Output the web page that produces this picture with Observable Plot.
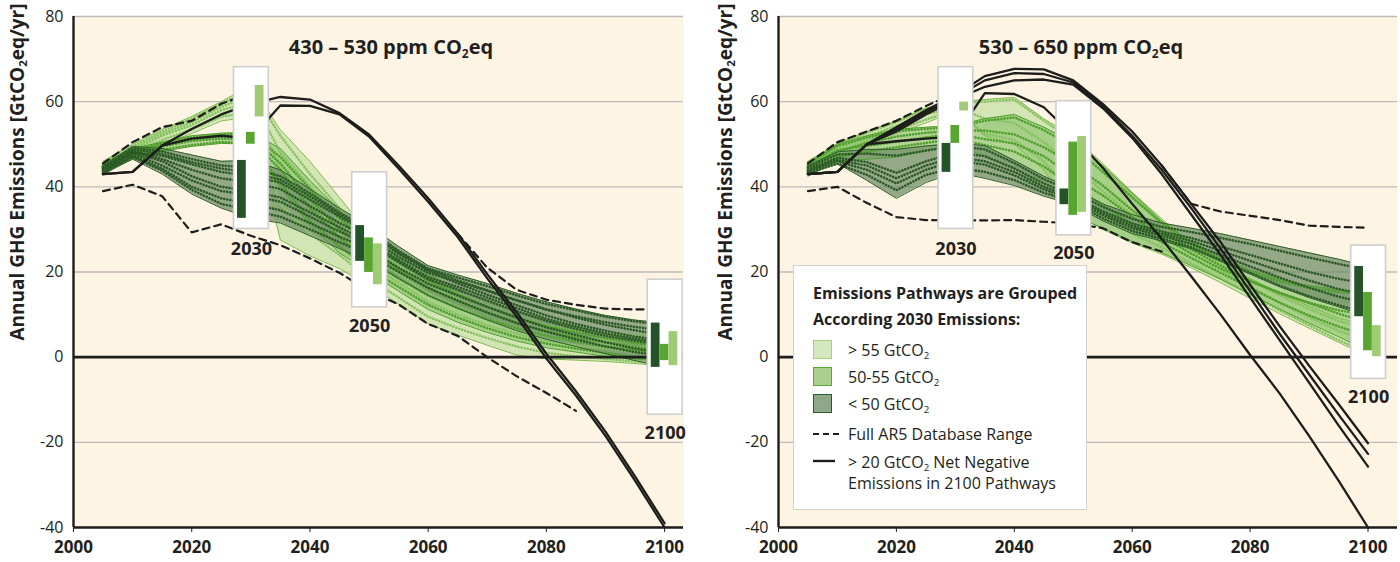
<!DOCTYPE html>
<html><head><meta charset="utf-8">
<script src="https://cdn.jsdelivr.net/npm/d3@7"></script>
<script src="https://cdn.jsdelivr.net/npm/@observablehq/plot@0.6"></script>
<style>
body{margin:0;background:#fff;}
#wrap{position:relative;width:1400px;height:562px;overflow:hidden;font-family:"Open Sans",sans-serif;color:#231f20;}
#wrap svg{font-stretch:100%;}
#wrap svg g[aria-label="text"]{font-stretch:93%;}
.panel{position:absolute;top:0;}
.ytitle{position:absolute;white-space:nowrap;font-weight:bold;font-size:19px;line-height:19px;font-stretch:96%;transform:translate(-50%,-50%) rotate(-90deg);}
.ptitle{position:absolute;white-space:nowrap;font-weight:bold;font-size:20px;line-height:20px;font-stretch:89%;transform:translateX(-50%);}
sub{font-size:0.6em;vertical-align:-0.3em;line-height:0}
#legend{position:absolute;left:793px;top:265px;width:292px;height:243px;background:#fff;border:1.5px solid #d2d2d2;}
#legend .t{position:absolute;left:19px;font-weight:bold;font-size:16px;line-height:16px;font-stretch:94%;white-space:nowrap;}
#legend .s{position:absolute;left:19px;width:17px;height:17px;border:1.5px solid;}
#legend .l{position:absolute;left:54px;font-size:16px;line-height:16px;font-stretch:92%;white-space:nowrap;}
#legend svg{position:absolute;left:19px;}
</style></head>
<body><div id="wrap"></div>
<script>
// ---------- data ----------
const YEARS = [2005,2010,2015,2020,2025,2030,2035,2040,2045,2050,2055,2060,2065,2070,2075,2080,2085,2090,2095,2100];
const X_TICKS = [2000,2020,2040,2060,2080,2100];
const Y_TICKS = [-40,-20,0,20,40,60,80];
const GRID_TICKS = [-20,20,40,60,80];
const BOX_YEARS = [2030,2050,2100];
const GROUP_NAMES = ["< 50 GtCO2","50-55 GtCO2","> 55 GtCO2"];

// Left panel: 430 – 530 ppm
const L_RANGE_HI = [45.5,50.5,54,55.5,59.5,62,null,null,null,null,null,null,29,21,15.8,13.5,12.3,11.4,11.2,11.2];
const L_RANGE_LO = [39,40.5,37.8,29.3,31.2,28.5,26.3,23.2,19.8,15.5,12.4,7.8,5,0,-4.5,-8.4,-12.6,null,null,null];
const L_NEG_1 = [43,43.5,49.7,53.6,57,59.5,61.1,60.5,57.3,52.3,45,37.3,29,19.5,10.5,0.8,-8,-17.5,-28,-39];
const L_NEG_2 = [43,43.5,49.7,51.3,52,51.4,59.1,59,57,51.8,44.3,36.5,28.2,18.5,9.5,-0.3,-9,-18.5,-29,-40];

const L_HI55_UP = [46,50,53.5,56.5,60,63.8,53.4,46,37.5,29,23,18.5,15,12,9.5,7.5,6.2,5.5,5.2,6];
const L_HI55_LO = [44.5,47.5,50,52.5,55.5,56.4,27.5,23.8,20.8,16.8,12.5,7.8,5.2,2.8,0.5,-0.4,-0.7,-1,-1.5,-2];
const L_MID_UP = [45.5,49,50.5,52,52.6,52.8,49,41.5,34.5,28,24,19.5,16,13,10.5,8.5,7,5.5,4.2,3];
const L_MID_LO = [43.5,46.5,48.3,49.5,50.2,50,40,31,24.5,19.9,15.5,11.2,8.2,5.8,3.8,2.2,1.2,0.2,-0.4,-0.8];
const L_LO50_UP = [45,49.5,49,47.5,46,46.2,44,39.5,35,30.9,26,21.5,19.3,17.3,15,13,11.3,9.8,8.7,8];
const L_LO50_LO = [43,46.5,43,38.3,35,32.6,31.5,28.5,25.5,22.5,18.5,14.5,11.5,8.7,6.2,4.2,2.5,0.8,-0.8,-2.4];

const L_HI55_RUNS = [
  [45.5,49.5,53,56,59.5,63,52,43,35,26,21.5,17,13.5,10.5,8,6,4.8,4,3.5,3.5],
  [45,48.5,52,54.5,58,60,44,37,29,22,17.5,13,10,7.5,5.5,3.8,2.8,2,1.3,1],
  [44.8,48,51,53.5,56.5,57.5,36,29,24,18.5,14,9.5,6.8,4.5,2.5,1,0.2,-0.4,-1,-1.5],
  [45.2,49,52.5,55.2,58.8,61.5,48,40,32,24,19.5,15,11.8,9,6.8,4.9,3.8,3,2.4,2.2]];
const L_MID_RUNS = [
  [45,48.5,50.3,51.6,52.3,52.5,47,39.5,32.5,27,22.5,18,14.8,11.8,9.3,7.3,5.8,4.5,3.3,2.5],
  [44.3,47.8,49.5,50.8,51.3,51.2,44,35,28,23,18.5,14.5,11.5,9,6.8,5,3.7,2.5,1.5,0.8],
  [43.8,47,48.7,49.8,50.5,50.3,41,32,26,20.8,16.5,12.3,9.3,6.8,4.7,3.2,2,1,0,-0.5],
  [44.7,48.2,49.9,51.2,51.8,51.8,45.5,37,30,25,20.5,16.2,13.1,10.4,8,6.1,4.7,3.5,2.4,1.6]];
const L_LO50_RUNS = [
  [44.7,49.2,48.3,46.5,45,44.5,42.5,38.5,34,30,25,20.8,18.7,16.7,14.5,12.5,11,9.5,8.4,7.5],
  [44.3,48.5,46.5,44,42,41,39.5,35.5,31.5,28,23.5,19.8,17.7,15.6,13.3,11.2,9.6,8.2,7.1,6.2],
  [43.8,47.8,45,41.5,39,38,36.5,33,29.5,26.5,22.3,18.3,15.8,13.3,10.8,8.5,6.6,5,3.8,2.8],
  [43.3,47,43.8,39.3,36,34.5,33,30,27,24,20,16.3,13.3,10.5,8,6,4.2,2.5,1.2,0.2],
  [44,48,47.3,45.3,43.5,42.5,41,37,33,29,24.3,20.3,17.3,14.7,12.2,9.8,7.8,6.2,4.8,3.8],
  [43.5,48.2,46,42.5,40,39,37.5,34,30.5,27,22.8,18.8,16.5,14,11.5,9,7.2,5.6,4.3,3.3],
  [43,47.3,44.3,40,37.3,36,34.5,31.5,28.3,25.3,21,17.2,14.5,11.8,9.3,7,5.2,3.5,2,1],
  [44.5,48.8,47.7,45.8,44.3,43.3,41.7,37.8,33.5,29.5,24.6,20.6,18,15.7,13.4,11.2,9.3,7.6,6.3,5.2]];

// [low, high] per year box: dark, medium, light
const L_BARS = [
  [[32.6,46.2],[50,52.8],[56.4,63.8]],
  [[22.5,30.9],[19.9,28],[17,26.6]],
  [[-2.4,8],[-0.8,3],[-2,6]]];
const L_BOX_SPAN = [[30.1,68.1],[11.7,43.4],[-13.5,18.2]];
const L_BOX_LABEL_Y = [25.3,7.3,-17.9];

// Right panel: 530 – 650 ppm
const R_RANGE_HI = [45.5,50.5,53,55.5,59,62,null,null,null,null,null,null,45,36,34.2,33.2,32.2,30.9,30.6,30.4];
const R_RANGE_LO = [39,40,36.2,32.9,32.2,32.1,32.1,32.2,31.8,31.4,30.3,27,24.8,null,null,null,null,null,null,null];
const R_NEG_1 = [43,43.5,50,50.7,51.3,51.8,62,61.8,58.7,52,44.5,36,27.8,19,10,0.5,-8.5,-18.5,-29,-40];
const R_NEG_2 = [43,43.5,50,54,58,61.5,66,67.7,67.6,65,59.5,53,45,36,27,17,7.3,-2,-11,-20.2];
const R_NEG_3 = [43,43.5,50,53.5,57.5,61,65,66.7,66.5,64.5,59,52,44,35,25.5,15.5,5.5,-4,-13.5,-22.7];
const R_NEG_4 = [43,43.5,50,53,57,60.5,63.5,65,65.2,64,58.5,51.5,43,33.5,24,14,4,-6,-16,-25.7];

const R_HI55_UP = [46,50.2,53,55.5,58.5,59.9,60.5,61,56,51.8,45.5,38.7,32.5,26.5,22.5,18.5,15,12,9.2,7.4];
const R_HI55_LO = [44.5,47.5,50.5,52.5,55,57.8,52,50,44,34,30,26.8,24.2,21,17.5,13.8,10.2,6.8,3.5,0.1];
const R_MID_UP = [45.5,50,52,53.5,54,54.4,56,57,54,50.5,45,38.5,32,27,23.5,20.5,18.3,16.8,15.8,15.2];
const R_MID_LO = [42.5,46,46.5,47,48.5,50.2,47,44.5,40,33.3,30.3,27.2,24.5,21.5,18.3,14.8,11.3,8,4.8,1.5];
const R_LO50_UP = [45,48.2,48.8,48.8,49.6,50.2,49.7,46.2,42.5,39.5,36,33.5,31.5,30.3,29,27.5,26,24.5,23,21.3];
const R_LO50_LO = [43,45.5,41.5,37.3,41,43.4,42,40.3,37.8,35.8,32,29,27.3,25.5,22.5,19.5,16.5,14,11.8,9.5];

const R_HI55_RUNS = [
  [45.8,49.8,52.7,55.2,58.3,59.7,60,60.5,55.5,51,44.5,37.8,31.5,26.5,22,18,14.5,11.3,8.5,6.8],
  [45.2,48.8,51.8,54.3,57,58.8,56,55,50.5,45,39,33.5,29,24.5,20.5,16.5,12.8,9.3,6.2,3.8],
  [44.7,48,51,53.2,55.8,58,52.5,51,46,38,33,29,25.8,22,18.5,14.8,11,7.5,4,1]];
const R_MID_RUNS = [
  [45.2,49.6,51.6,53.1,53.6,54.1,55.5,56.3,53.3,49.5,43.5,37.5,31.5,26.5,23,20,17.8,16.3,15.3,14.7],
  [44.3,48.3,50.3,51.8,52.7,53.2,53.2,52.3,49.3,45.3,40.3,34.5,29.5,25.3,21.5,18,15,12.8,11,9.8],
  [43.3,47,48.3,49.3,50.3,51.3,49.8,48.3,44.8,40,35.8,31,27,23.3,19.8,16.3,12.8,9.8,7.2,5],
  [44.6,48.6,49.6,50.6,51.6,52.5,51.2,50.2,47.2,42.3,38,33,28.3,24.3,20.8,17.8,15.2,12.7,10.2,8.2]];
const R_LO50_RUNS = [
  [44.6,47.6,47.8,47.3,48.5,49.6,48.8,45.6,41.8,38.8,35.3,32.5,30.6,29.4,28,26.6,25,23.4,21.9,20.5],
  [44.1,46.8,45.8,43.3,46,48,47.2,44.3,40.8,37.8,34.3,31.4,29.5,28,26,24,22,20,18.4,17.2],
  [43.6,46,44,40.8,44,46.2,45.2,42.7,39.4,37,33.3,30.3,28.5,26.6,24,21.3,18.7,16.3,14.2,12.6],
  [43.3,45.4,42.8,39.2,42.8,44.5,43.5,41.6,38.6,36.5,32.6,29.6,27.8,25.8,22.8,19.8,16.8,14.3,12.2,10.3],
  [43.8,46.3,45,42,45,47,46,43.5,40,37.4,33.8,30.8,29,27.3,25,22.6,20.3,18,16,14.6]];

const R_BARS = [
  [[43.4,50.2],[50.2,54.4],[57.8,59.9]],
  [[35.8,39.5],[33.3,50.5],[34,51.8]],
  [[9.5,21.3],[1.5,15.2],[0.1,7.4]]];
const R_BOX_SPAN = [[30.1,68.1],[28.6,60.1],[-5.1,26.2]];
const R_BOX_LABEL_Y = [25.4,24.3,-9.5];

// ---------- styles ----------
const FONT = '"Open Sans",sans-serif';
const CREAM = "#fef4e3";
const GRID = "#bcbcbc";
const INK = "#1d1d1b";
const STY = {
  dark:  {fill:"#718f6a", edge:"#2f5e2a", line:"#2b5a26", bar:"#24532a"},
  mid:   {fill:"#97c878", edge:"#4f9e2c", line:"#4f9f2c", bar:"#58a532"},
  light: {fill:"#c5e0a5", edge:"#7dbb4f", line:"#88c262", bar:"#a0cb74"}
};

const series = arr => YEARS.map((year,i)=>({year, v: arr[i]}));
const band = (up, lo) => YEARS.map((year,i)=>({year, hi: up[i], lo: lo[i]}));
const runs = list => list.flatMap((r,k)=>YEARS.map((year,i)=>({id:k, year, v:r[i]})));

function panel(P){
  const groups = [
    {s:STY.light, up:P.hiUp, lo:P.hiLo, runs:P.hiRuns},
    {s:STY.mid, up:P.midUp, lo:P.midLo, runs:P.midRuns},
    {s:STY.dark, up:P.loUp, lo:P.loLo, runs:P.loRuns}];
  const marks = [
    Plot.frame({fill:CREAM, stroke:"none"}),
    Plot.ruleY(GRID_TICKS, {stroke:GRID, strokeWidth:1.4})
  ];
  for (const g of groups) marks.push(Plot.areaY(band(g.up,g.lo), {x:"year", y1:"lo", y2:"hi", fill:g.s.fill, fillOpacity:0.75}));
  for (const g of groups) {
    marks.push(Plot.line(runs(g.runs), {x:"year", y:"v", z:"id", stroke:g.s.line, strokeWidth:2.6, strokeDasharray:"0.1,3", strokeLinecap:"round"}));
    marks.push(Plot.line(series(g.up), {x:"year", y:"v", stroke:g.s.edge, strokeWidth:1}));
    marks.push(Plot.line(series(g.lo), {x:"year", y:"v", stroke:g.s.edge, strokeWidth:1}));
  }
  marks.push(Plot.ruleY([0], {stroke:INK, strokeWidth:2.6}));
  for (const d of P.range) marks.push(Plot.line(series(d), {x:"year", y:"v", stroke:INK, strokeWidth:2.2, strokeDasharray:"7,5"}));
  for (const d of P.neg) marks.push(Plot.line(series(d), {x:"year", y:"v", stroke:INK, strokeWidth:2.3}));
  // year boxes
  const boxes = BOX_YEARS.map((yr,i)=>({yr, x1:yr-2.85, x2:yr+3.05, y1:P.boxSpan[i][0], y2:P.boxSpan[i][1], ly:P.boxLabelY[i], label:String(yr)}));
  marks.push(Plot.rect(boxes, {x1:"x1", x2:"x2", y1:"y1", y2:"y2", fill:"#fff", stroke:"#cfcfcf", strokeWidth:1.6}));
  const barCols = [STY.dark.bar, STY.mid.bar, STY.light.bar];
  const bars = boxes.flatMap((b,i)=>P.bars[i].map((r,k)=>({x1:b.x1+0.6+k*1.5, x2:b.x1+0.6+k*1.5+1.48, y1:r[0], y2:r[1], c:barCols[k], g:GROUP_NAMES[k]})));
  marks.push(Plot.rect(bars, {x1:"x1", x2:"x2", y1:"y1", y2:"y2", fill:"c"}));
  marks.push(Plot.text(boxes, {x:d=>(d.x1+d.x2)/2, y:"ly", text:"label", fontWeight:"bold", fontSize:18, fill:"#231f20"}));
  // axes
  marks.push(Plot.ruleX([2000], {stroke:INK, strokeWidth:2.4}));
  marks.push(Plot.ruleY([-40], {stroke:INK, strokeWidth:2.4}));
  marks.push(Plot.axisY({ticks:Y_TICKS, tickSize:0, tickPadding:10, fontSize:16, label:null, tickFormat:d=>String(d)}));
  marks.push(Plot.axisX({ticks:X_TICKS, tickSize:5, tickPadding:8, fontSize:17, fontWeight:"bold", tickFormat:d=>String(d), label:null}));
  return Plot.plot({
    width:700, height:562,
    marginLeft:P.ml, marginRight:P.mr, marginTop:16, marginBottom:35,
    x:{domain:P.xdom}, y:{domain:[-40,80]},
    style:{fontFamily:FONT, background:"transparent", color:"#231f20", overflow:"visible"},
    marks
  });
}

const wrap = document.getElementById("wrap");
const left = panel({
  ml:73, mr:17, xdom:[2000,2103.2],
  hiUp:L_HI55_UP, hiLo:L_HI55_LO, hiRuns:L_HI55_RUNS,
  midUp:L_MID_UP, midLo:L_MID_LO, midRuns:L_MID_RUNS,
  loUp:L_LO50_UP, loLo:L_LO50_LO, loRuns:L_LO50_RUNS,
  range:[L_RANGE_HI, L_RANGE_LO], neg:[L_NEG_1, L_NEG_2],
  bars:L_BARS, boxSpan:L_BOX_SPAN, boxLabelY:L_BOX_LABEL_Y
});
const right = panel({
  ml:78, mr:3, xdom:[2000,2105],
  hiUp:R_HI55_UP, hiLo:R_HI55_LO, hiRuns:R_HI55_RUNS,
  midUp:R_MID_UP, midLo:R_MID_LO, midRuns:R_MID_RUNS,
  loUp:R_LO50_UP, loLo:R_LO50_LO, loRuns:R_LO50_RUNS,
  range:[R_RANGE_HI, R_RANGE_LO], neg:[R_NEG_1, R_NEG_2, R_NEG_3, R_NEG_4],
  bars:R_BARS, boxSpan:R_BOX_SPAN, boxLabelY:R_BOX_LABEL_Y
});
left.classList.add("panel"); left.style.left = "0px";
right.classList.add("panel"); right.style.left = "700px";
wrap.appendChild(left); wrap.appendChild(right);

wrap.insertAdjacentHTML("beforeend", `
<div class="ytitle" style="left:17px;top:172px">Annual GHG Emissions [GtCO<sub>2</sub>eq/yr]</div>
<div class="ytitle" style="left:725px;top:172px">Annual GHG Emissions [GtCO<sub>2</sub>eq/yr]</div>
<div class="ptitle" style="left:391px;top:37px">430 – 530 ppm CO<sub>2</sub>eq</div>
<div class="ptitle" style="left:1081px;top:37px">530 – 650 ppm CO<sub>2</sub>eq</div>
<div id="legend">
  <div class="t" style="top:19px">Emissions Pathways are Grouped</div>
  <div class="t" style="top:45px">According 2030 Emissions:</div>
  <div class="s" style="top:74px;background:#d3e8bd;border-color:#a3d17e"></div>
  <div class="l" style="top:76px">&gt; 55 GtCO<sub>2</sub></div>
  <div class="s" style="top:101px;background:#a9d08c;border-color:#5aa934"></div>
  <div class="l" style="top:103px">50-55 GtCO<sub>2</sub></div>
  <div class="s" style="top:128px;background:#8fa88a;border-color:#2d5a2d"></div>
  <div class="l" style="top:130px">&lt; 50 GtCO<sub>2</sub></div>
  <svg width="26" height="6" style="top:165px"><line x1="0" y1="3" x2="26" y2="3" stroke="#1d1d1b" stroke-width="2.2" stroke-dasharray="6,4"/></svg>
  <div class="l" style="top:160px">Full AR5 Database Range</div>
  <svg width="26" height="6" style="top:192px"><line x1="0" y1="3" x2="22" y2="3" stroke="#1d1d1b" stroke-width="2.4"/></svg>
  <div class="l" style="top:188px">&gt; 20 GtCO<sub>2</sub> Net Negative</div>
  <div class="l" style="top:209px">Emissions in 2100 Pathways</div>
</div>`);
</script>
</body></html>
